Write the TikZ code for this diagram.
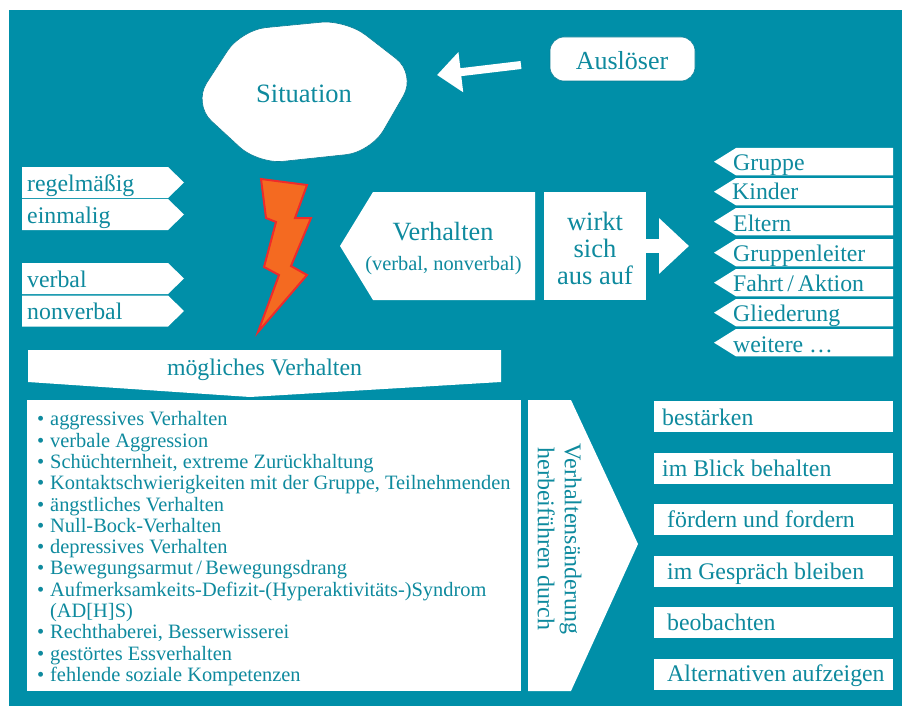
\documentclass[tikz,border=0pt]{standalone}
\usepackage{fontspec}
\setmainfont{Liberation Serif}
\usetikzlibrary{arrows.meta}
\definecolor{grund}{HTML}{008FA8}
\definecolor{rand}{HTML}{0A7F96}
\definecolor{schrift}{HTML}{0E8A9E}
\definecolor{blitz}{HTML}{F46A21}
\definecolor{blitzrand}{HTML}{EE2B2B}
\tikzset{
    flaeche/.style={fill=white, draw=rand, line width=0.6pt},
    kasten/.style={fill=white, minimum width=102pt, minimum height=108pt, inner sep=0pt, outer sep=0pt},
    beschriftung/.style={text=schrift, inner sep=0pt, font=\fontsize{#1}{27}\selectfont},
    beschriftung/.default=23.8,
    blockpfeil/.style={draw=white, line width=#1},
}
\newcommand{\punkt}{\makebox[13pt][l]{•}}
\begin{document}
\begin{tikzpicture}[x=1pt, y=-1pt]
    \useasboundingbox (0,0) rectangle (902,706);
    \fill[grund] (9,10) rectangle (902,706);

    \draw[flaeche, rounded corners=25pt] (241,30) -- (346,19.8) -- (416,74) -- (371,152) -- (258,164) -- (193,104) -- cycle;
    \node[beschriftung=26.5] (situation) at (304,94) {Situation};
    \node[flaeche, rounded corners=14pt, minimum width=145pt, minimum height=44pt, outer sep=0pt] (ausloeser) at (622.5,59) {};
    \node[beschriftung=26] (ausloesertext) at (622,61) {Auslöser};
    \coordinate (ausloeserfuss) at (521,65);
    \coordinate (situationziel) at (437,75);
    \draw[blockpfeil=8pt, -{Triangle[length=24pt, width=39pt]}] (ausloeserfuss) -- (situationziel);

    \foreach \oben/\name/\wort/\basis in {167/regel/regelmäßig/191.7, 199/einmal/einmalig/223, 263/verbal/verbal/287, 295.5/nonverbal/nonverbal/319}{
        \fill[white] (22,\oben) -- (168,\oben) -- (184,\oben+15.5) -- (168,\oben+31) -- (22,\oben+31) -- cycle;
        \node[beschriftung, anchor=base west] (\name) at (27,\basis) {\wort};
    }

    \draw[fill=blitz, draw=blitzrand, line width=2pt, line join=miter] (261,179) -- (307,185) -- (295,218) -- (311,218) -- (291,266) -- (307,275) -- (258,332) -- (279,275) -- (264,267) -- (276,222) -- (266,218) -- cycle;

    \fill[white] (340,246) -- (373,192) -- (535,192) -- (535,300) -- (373,300) -- cycle;
    \node[beschriftung=26.3] (verhalten) at (443,232) {Verhalten};
    \node[beschriftung=20.4] (klammer) at (443.5,265.5) {(verbal, nonverbal)};
    \node[kasten] (wirkt) at (595,246) {};
    \node[beschriftung=26.5, align=center] (wirkttext) at (595,248) {wirkt\\sich\\aus auf};
    \coordinate (wirktziel) at (689,246);
    \draw[blockpfeil=14pt, -{Triangle[length=30pt, width=54pt]}] (wirkt.east) -- (wirktziel);

    \foreach \oben/\name/\wort/\links/\basis in {148/gruppe/Gruppe/733/170, 178/kinder/Kinder/732/199, 208/eltern/Eltern/733/231, 239/leiter/Gruppenleiter/733/261, 269/fahrt/{Fahrt\,/\,Aktion}/733/291, 299/gliederung/Gliederung/733/321, 329/weitere/weitere …/733/352}{
        \fill[white] (893,\oben) -- (736,\oben) -- (714,\oben+13.7) -- (736,\oben+27.4) -- (893,\oben+27.4) -- cycle;
        \node[beschriftung, anchor=base west] (\name) at (\links,\basis) {\wort};
    }

    \fill[white] (28,350) -- (501,350) -- (501,382) -- (250,397) -- (28,382) -- cycle;
    \node[beschriftung] (moeglich) at (264.5,369.5) {mögliches Verhalten};

    \fill[white] (27,400) rectangle (521,691);
    \node[beschriftung, anchor=north west, align=left, font=\fontsize{20.4}{21.3}\selectfont] (liste) at (37,411.5) {
        \punkt aggressives Verhalten\\
        \punkt verbale Aggression\\
        \punkt Schüchternheit, extreme Zurückhaltung\\
        \punkt Kontaktschwierigkeiten mit der Gruppe, Teilnehmenden\\
        \punkt ängstliches Verhalten\\
        \punkt Null-Bock-Verhalten\\
        \punkt depressives Verhalten\\
        \punkt Bewegungsarmut\,/\,Bewegungsdrang\\
        \punkt Aufmerksamkeits-Defizit-(Hyperaktivitäts-)Syndrom\\
        \hspace*{13pt}(AD[H]S)\\
        \punkt Rechthaberei, Besserwisserei\\
        \punkt gestörtes Essverhalten\\
        \punkt fehlende soziale Kompetenzen
    };

    \fill[white] (528,400) -- (571,400) -- (638,544) -- (571,691) -- (528,691) -- cycle;
    \node[beschriftung, rotate=-90, align=center, font=\fontsize{24}{27}\selectfont] (aenderung) at (559.5,539) {Verhaltensänderung\\herbeiführen durch};

    \foreach \oben/\name/\wort/\links/\basis in {401/staerken/bestärken/662/425, 452.7/blick/im Blick behalten/662/476, 504/foerdern/fördern und fordern/667/527.7, 555.7/gespraech/im Gespräch bleiben/667/579, 607/beobachten/beobachten/667/630.7, 658.7/alternativen/Alternativen aufzeigen/667/681.7}{
        \fill[white] (654,\oben) rectangle (893,\oben+31);
        \node[beschriftung, anchor=base west] (\name) at (\links,\basis) {\wort};
    }
\end{tikzpicture}
\end{document}
